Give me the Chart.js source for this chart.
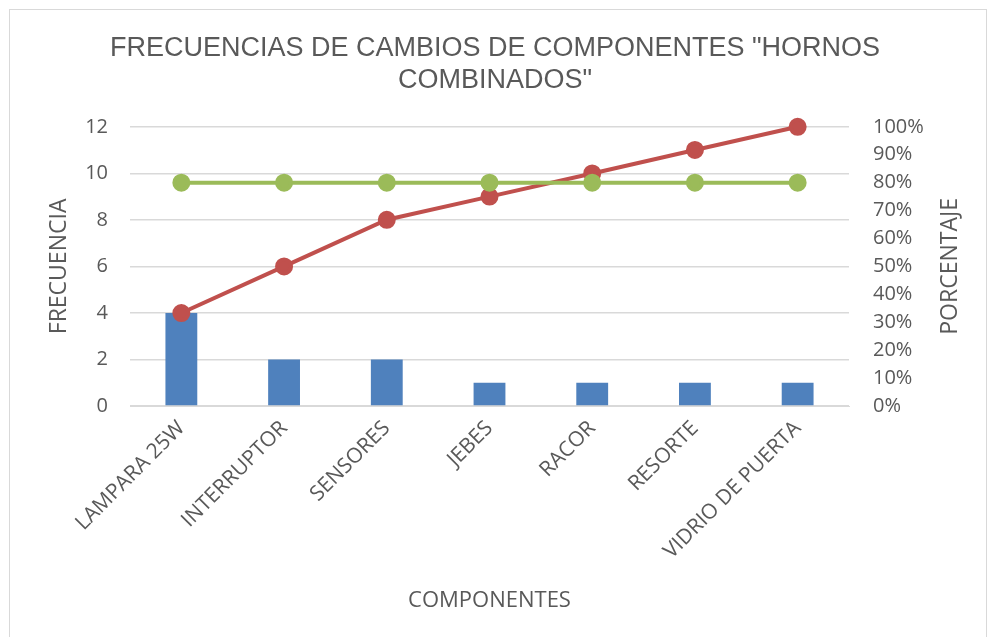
<!DOCTYPE html>
<html>
<head>
<meta charset="utf-8">
<script src="https://cdn.jsdelivr.net/npm/chart.js@4/dist/chart.umd.min.js"></script>
<style>
  html, body { margin: 0; padding: 0; background: #fff; }
  #frame { position: absolute; left: 9px; top: 9px; width: 978px; height: 640px; border: 1px solid #d9d9d9; box-sizing: border-box; }
  #wrap { position: absolute; left: 0; top: 0; width: 990px; height: 637px; }
</style>
</head>
<body>
<div id="frame"></div>
<div id="wrap"><canvas id="paretoChart" width="990" height="637"></canvas></div>
<script>
var categories = ["LAMPARA 25W", "INTERRUPTOR", "SENSORES", "JEBES", "RACOR", "RESORTE", "VIDRIO DE PUERTA"];
var frecuencia = [4, 2, 2, 1, 1, 1, 1];
var porcentajeAcumulado = [0.333, 0.5, 0.667, 0.75, 0.833, 0.917, 1.0];
var limite80 = [0.8, 0.8, 0.8, 0.8, 0.8, 0.8, 0.8];
var leftTicks = [0, 2, 4, 6, 8, 10, 12];
var rightTicks = [0, 0.1, 0.2, 0.3, 0.4, 0.5, 0.6, 0.7, 0.8, 0.9, 1.0];

var textColor = '#595959';
var axisFont = 'Open Sans';

// right axis title reads bottom-to-top like the left one
var rightTitle = {
	id: 'rightTitle',
	afterDraw: function (chart) {
		var s = chart.scales.y1;
		var c = chart.ctx;
		c.save();
		c.translate(s.right - 40, (s.top + s.bottom) / 2);
		c.rotate(-Math.PI / 2);
		c.fillStyle = textColor;
		c.font = '23px "' + axisFont + '"';
		c.textAlign = 'center';
		c.textBaseline = 'middle';
		c.fillText('PORCENTAJE', 0, 0);
		c.restore();
	}
};

var ctx = document.getElementById("paretoChart");
var paretoChart = new Chart(ctx, {
	type: 'bar',
	data: {
		labels: categories,
		datasets: [{
			type: 'line',
			label: '80%',
			data: limite80,
			yAxisID: 'y1',
			borderColor: '#9bbb59',
			backgroundColor: '#9bbb59',
			borderWidth: 4,
			pointRadius: 7,
			pointHoverRadius: 7,
			clip: false,
			order: 1
		}, {
			type: 'line',
			label: 'Porcentaje',
			data: porcentajeAcumulado,
			yAxisID: 'y1',
			borderColor: '#c0504d',
			backgroundColor: '#c0504d',
			borderWidth: 4,
			pointRadius: 7,
			pointHoverRadius: 7,
			clip: false,
			order: 2
		}, {
			label: 'Frecuencia',
			data: frecuencia,
			yAxisID: 'y',
			backgroundColor: '#4f81bd',
			barPercentage: 0.31,
			categoryPercentage: 1,
			order: 3
		}]
	},
	options: {
		responsive: false,
		animation: false,
		layout: { padding: { top: 32, left: 0, right: 0, bottom: 0 } },
		plugins: {
			legend: { display: false },
			tooltip: { enabled: false },
			title: {
				display: true,
				text: ['FRECUENCIAS DE CAMBIOS DE COMPONENTES "HORNOS', 'COMBINADOS"'],
				color: textColor,
				font: { family: 'Liberation Sans', size: 27, weight: 'normal' },
				padding: { top: 0, bottom: 30 },
				lineHeight: 1.15
			}
		},
		scales: {
			x: {
				afterFit: function (s) { s.paddingLeft = 0; s.paddingRight = 0; s.height = 231; },
				grid: { display: false },
				border: { color: '#d9d9d9' },
				ticks: {
					color: textColor,
					font: { family: axisFont, size: 21 },
					maxRotation: 45,
					minRotation: 45,
					padding: 2
				},
				title: {
					display: true,
					text: 'COMPONENTES',
					color: textColor,
					font: { family: axisFont, size: 22 },
					padding: { top: 0, bottom: 23 }
				}
			},
			y: {
				position: 'left',
				min: 0,
				max: 12,
				afterFit: function (s) { s.width = 130; s.paddingTop = 0; s.paddingBottom = 0; },
				afterBuildTicks: function (axis) { axis.ticks = leftTicks.map(function (v) { return { value: v }; }); },
				grid: { color: '#d9d9d9', lineWidth: 1.5, drawTicks: false },
				border: { display: false },
				ticks: {
					color: textColor,
					font: { family: axisFont, size: 20 },
					padding: 22
				},
				title: {
					display: true,
					text: 'FRECUENCIA',
					color: textColor,
					font: { family: axisFont, size: 23 },
					padding: { top: 46, bottom: 0 }
				}
			},
			y1: {
				position: 'right',
				min: 0,
				max: 1,
				afterFit: function (s) { s.width = 141; s.paddingTop = 0; s.paddingBottom = 0; },
				afterBuildTicks: function (axis) { axis.ticks = rightTicks.map(function (v) { return { value: v }; }); },
				grid: { display: false, drawTicks: false },
				border: { display: false },
				ticks: {
					color: textColor,
					font: { family: axisFont, size: 20 },
					padding: 24,
					callback: function (v) { return Math.round(v * 100) + '%'; }
				}
			}
		}
	},
	plugins: [rightTitle]
});
</script>
</body>
</html>
